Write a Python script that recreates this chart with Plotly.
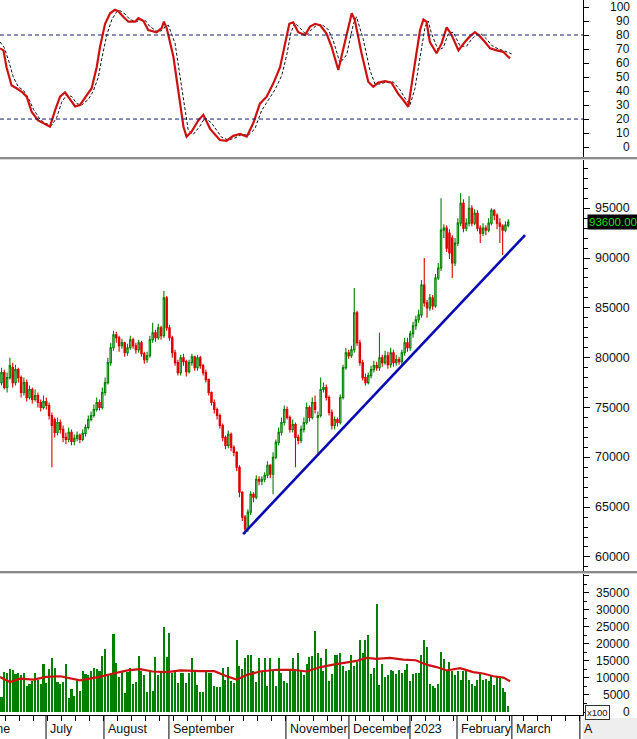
import plotly.graph_objects as go

# ---------------- data (bar index = trading day, 0 = first bar in June 2022) ----------------
open_ = [
    77500, 78500, 77000, 78000, 79000, 77500, 78800, 78000, 76500, 77500,
    76000, 76800, 75800, 76200, 75500, 75000, 75600, 75200, 74200, 73800,
    72500, 73500, 72800, 72000, 71800, 72500, 71600, 71900, 72200, 71800,
    72400, 73000, 73800, 74200, 74800, 75500, 75000, 76500, 77500, 79500,
    81000, 82300, 82000, 81200, 81500, 80500, 81000, 81800, 81200, 80800,
    81500, 80400, 79800, 80200, 81800, 82500, 82000, 83000, 82200, 86000,
    83000, 82000, 80500, 79500, 78500, 80000, 79600, 78600, 79500, 80100,
    79000, 80000, 79200, 78500, 77800, 76500, 75500, 74800, 74200, 73200,
    72000, 71200, 72300, 71000, 70500, 69000, 66500, 64000, 62800, 64500,
    66300, 66000, 67800, 67600, 67800, 68200, 69200, 68300, 70000, 71500,
    72500, 73500, 74800, 74000, 72800, 73300, 72000, 71700, 72800, 73500,
    75000, 74000, 75500, 74000, 74200, 76800, 77000, 76000, 74500, 73200,
    73800, 73500, 76000, 79000, 80500, 80200, 80800, 84500, 81500, 79500,
    78000, 77500, 78200, 78800, 79200, 79000, 80000, 79500, 80200, 79300,
    80500, 79500, 79800, 79600, 80500, 81500, 81000, 82400, 83200, 83800,
    84300, 87300, 85500, 85000, 86000, 85200, 88000, 89000, 92800, 93000,
    92500, 92000, 89500, 91500, 93500, 95500, 93000, 93500, 95000, 93500,
    94500, 93000, 92500, 93000, 92800, 93500, 94800, 94300, 93500, 93200,
    92800, 93300,
]
high = [
    79000, 78800, 78500, 80000, 79500, 79300, 79000, 78200, 78000, 77800,
    77200, 77000, 76800, 76500, 75800, 76200, 76000, 75500, 74500, 74000,
    74000, 73800, 73200, 72500, 73000, 72800, 72300, 72600, 72400, 72800,
    73300, 74200, 74600, 75300, 76000, 75800, 77000, 78000, 80000, 81500,
    82700, 82600, 82200, 81900, 81600, 81400, 82200, 82000, 81500, 81800,
    81700, 80600, 80600, 82200, 83500, 82800, 83400, 83200, 86700, 86200,
    83300, 82200, 80800, 79800, 80300, 80400, 79800, 79800, 80400, 80200,
    80300, 80200, 79400, 78800, 77900, 76600, 75800, 75000, 74400, 73400,
    72200, 72700, 72500, 71200, 70600, 69200, 66600, 64200, 64800, 66600,
    66500, 68200, 68100, 68100, 68500, 69600, 69300, 70500, 71800, 73000,
    74000, 75200, 75100, 74200, 73800, 73500, 72300, 73200, 74000, 75500,
    75200, 76000, 76200, 74600, 78000, 77500, 77300, 76200, 74800, 74100,
    74000, 76300, 79300, 81000, 80800, 81200, 87000, 84700, 81800, 79800,
    78400, 78500, 79200, 79700, 79600, 82500, 80300, 80700, 80600, 81000,
    80800, 80300, 80100, 80800, 82000, 82000, 82700, 83600, 84200, 84800,
    87800, 90000, 85800, 86400, 86300, 88400, 89500, 96000, 93400, 93300,
    92900, 92300, 92000, 94000, 96500, 95900, 94000, 96200, 95300, 94900,
    94800, 93300, 93500, 93300, 94000, 95000, 94900, 94500, 94000, 93400,
    93700, 93900,
]
low = [
    77200, 76800, 76500, 77800, 77000, 77200, 77500, 76000, 76200, 75600,
    75800, 75400, 75600, 75000, 74600, 74800, 74800, 73800, 69000, 72000,
    72200, 72400, 71500, 71300, 71500, 71200, 71200, 71600, 71400, 71600,
    72100, 72800, 73600, 74000, 74600, 74700, 74800, 76200, 77300, 79200,
    80700, 81500, 80600, 80900, 80100, 80200, 80800, 80900, 80400, 80500,
    80100, 79400, 79500, 80000, 81500, 81600, 81800, 81800, 82000, 82700,
    81700, 80000, 79200, 78200, 78200, 79200, 78100, 78400, 79200, 78700,
    78700, 78900, 78200, 77500, 76200, 75200, 74400, 73800, 72900, 71600,
    70800, 70900, 70600, 70100, 68600, 66000, 63600, 62300, 62500, 64200,
    65500, 65800, 67200, 67200, 67500, 67900, 67900, 66300, 69800, 71200,
    72200, 73200, 73800, 72500, 72500, 69000, 71300, 71400, 72500, 73300,
    73600, 73800, 74400, 70400, 74000, 76500, 75700, 74200, 72800, 72800,
    73100, 73300, 75800, 78800, 79900, 80000, 80500, 81200, 79200, 77700,
    77200, 77300, 77900, 78500, 78700, 78700, 79100, 79300, 78900, 79000,
    79100, 79200, 79300, 79300, 80200, 80600, 80700, 82000, 82800, 83500,
    84000, 85100, 84000, 84700, 84800, 85000, 87800, 88700, 92000, 90600,
    89900, 88000, 89200, 91200, 93200, 92600, 92700, 93200, 93200, 93300,
    92700, 91500, 92200, 92300, 92600, 93300, 93800, 92900, 91500, 90300,
    92600, 93100,
]
close = [
    78500, 77000, 78000, 79200, 77500, 78800, 78000, 76500, 77500, 76000,
    76800, 75800, 76200, 75500, 75000, 75600, 75200, 74200, 73200, 72500,
    73500, 72800, 72000, 71800, 72500, 71600, 71900, 72200, 71800, 72400,
    73000, 73800, 74200, 74800, 75500, 75000, 76500, 77500, 79500, 81000,
    82300, 82000, 81200, 81500, 80500, 81000, 81800, 81200, 80800, 81500,
    80400, 79800, 80200, 81800, 82500, 82000, 83000, 82200, 86000, 83000,
    82000, 80500, 79500, 78500, 80000, 79600, 78600, 79500, 80100, 79000,
    80000, 79200, 78500, 77800, 76500, 75500, 74800, 74200, 73200, 72000,
    71200, 72300, 71000, 70500, 69000, 66500, 64000, 62800, 64500, 66300,
    66000, 67800, 67600, 67800, 68200, 69200, 68300, 70000, 71500, 72500,
    73500, 74800, 74000, 72800, 73300, 72000, 71700, 72800, 73500, 75000,
    74000, 75500, 74800, 74200, 76800, 77000, 76000, 74500, 73200, 73800,
    73500, 76000, 79000, 80500, 80200, 80800, 84500, 81500, 79500, 78000,
    77500, 78200, 78800, 79200, 79000, 80000, 79500, 80200, 79300, 80500,
    79500, 79800, 79600, 80500, 81500, 81000, 82400, 83200, 83800, 84300,
    87300, 85500, 85000, 86000, 85200, 88000, 89000, 92800, 93000, 91000,
    90500, 89500, 91500, 93500, 95500, 93000, 93500, 95000, 93500, 94500,
    93000, 92500, 93000, 92800, 93500, 94800, 94300, 93500, 93200, 92800,
    93300, 93600,
]
volume = [
    4500, 11700, 11500, 12600, 12400, 11200, 11500, 10800, 11400, 7600,
    8200, 9000, 11400, 9400, 8100, 14000, 8500, 12700, 16000, 12800,
    8800, 8200, 8800, 14000, 4200, 6800, 4700, 9200, 6200, 12000,
    11200, 10800, 11900, 12800, 12500, 12000, 16500, 18500, 10800, 11400,
    22800, 14500, 10300, 12000, 5600, 11800, 12800, 8100, 8800, 16500,
    12000, 10800, 5800, 11800, 6200, 16200, 10800, 12000, 25000, 16200,
    23300, 11400, 11800, 8500, 11400, 11400, 8500, 11400, 15900, 12000,
    8000, 6000, 6000, 11800, 11400, 11400, 7700, 7200, 7200, 12800,
    9400, 13200, 9000, 8500, 21200, 13400, 12500, 15800, 16600, 16600,
    12000, 8800, 15800, 12000, 15800, 7500, 15800, 12000, 7500, 16000,
    11400, 9000, 8500, 12000, 16000, 12000, 17200, 12000, 10800, 14000,
    16300, 16500, 23800, 17300, 15800, 12000, 18500, 9000, 11200, 16800,
    16800, 17200, 13500, 12000, 12400, 16800, 13500, 14800, 21000, 17200,
    21000, 22500, 11300, 12800, 31800, 7800, 14000, 10300, 11000, 12200,
    12000, 11300, 12400, 11600, 12400, 14200, 9000, 11200, 11400, 11600,
    16800, 21000, 19000, 8200, 7500, 7000, 8300, 17500, 15600, 12000,
    14600, 12000, 11000, 12000, 9400, 12000, 12000, 9400, 8200, 7500,
    9400, 11600, 9400, 9800, 9000, 11000, 7800, 10400, 10000, 7000,
    5800, 1800,
]
vol_ma_idx = [-0.5, 3, 6.6, 11.4, 16, 21, 28, 35, 40, 45, 49.5, 54, 59, 64, 71, 76,
              80.4, 84, 87.6, 92.3, 98.3, 104, 109, 114, 118.5, 123, 126.8, 130.4,
              134, 138.7, 143.5, 148, 151.8, 155.4, 159, 163.8, 168.5, 172, 175.7,
              179.3, 181.7]
vol_ma = [10300, 8800, 9800, 9500, 10300, 10500, 9300, 10300, 11300, 12200, 12600,
          11900, 11700, 12200, 12000, 12000, 10500, 9500, 10900, 11900, 12400, 12400,
          11900, 13200, 13900, 14400, 15000, 15900, 15600, 15900, 15400, 15200, 13900,
          13200, 12200, 12900, 11700, 11300, 10500, 10100, 9000]

stoch_k_idx = [-0.5, 0.7, 1.8, 3.6, 5.4, 7.2, 9, 10.8, 13.1, 14.9, 17.3, 19.1, 20.9,
               22.7, 24.5, 26.3, 28, 30.4, 32.2, 34, 35.2, 37, 38.8, 40.5, 41.7, 43.5,
               45.3, 47.7, 48.9, 50.7, 52.4, 55.4, 57.2, 58, 59, 61.4, 63.2, 65, 66.1,
               67.9, 70.3, 72.1, 74.5, 78, 80.4, 82.8, 85.2, 87.6, 89.9, 92.3, 94.7,
               97.1, 99.5, 101.3, 102.8, 104.2, 106, 108.4, 110.2, 112, 113.8, 116.1,
               117.9, 120.3, 122.7, 125.1, 126.2, 128.6, 131, 132.8, 134.6, 137, 139.3,
               141.7, 143.5, 145.3, 147.1, 149.5, 150.7, 151.8, 153, 155.4, 157.2, 159,
               160.8, 163.2, 165.5, 167.3, 169.1, 170.9, 172.7, 174.5, 176.9, 179.2,
               181.6]
stoch_k = [70.5, 69, 57, 44, 42, 39.5, 36, 25, 19, 17, 14.5, 26, 36, 39, 33.6, 29, 30,
           37, 42, 57, 71.6, 88, 95.5, 98, 97, 93, 89.5, 89.5, 92, 90, 83.6, 82, 85,
           89.5, 85, 64.5, 38, 14.5, 7.4, 11, 19, 23, 13, 5, 4.5, 8, 9.3, 7.4, 17, 31,
           36, 45.5, 57, 74, 88, 89, 82, 80, 86, 88, 87, 81, 71.6, 55, 76.4, 95.5, 90.7,
           67, 46.6, 43, 46, 47, 46, 38, 33.6, 28.8, 52.6, 83.6, 91, 89.5, 75, 67, 74,
           85.5, 80, 69, 75, 79, 82, 79, 75, 70.5, 69, 68, 63.3]
stoch_d_idx = [-0.5, 1, 2.5, 4.2, 6, 7.8, 9.6, 11.4, 13.7, 15.5, 17.9, 19.7, 21.5, 23.3,
               25.1, 26.9, 28.6, 31, 32.8, 34.6, 35.8, 37.6, 39.4, 41.1, 42.3, 44.1,
               45.9, 48.3, 49.5, 51.3, 53, 56, 57.8, 58.6, 59.6, 62, 63.8, 65.6, 66.7,
               68.5, 70.9, 72.7, 75.1, 78.6, 81, 83.4, 85.8, 88.2, 90.5, 92.9, 95.3,
               97.7, 100.1, 101.9, 103.4, 104.8, 106.6, 109, 110.8, 112.6, 114.4, 116.7,
               118.5, 120.9, 123.3, 125.7, 126.8, 129.2, 131.6, 133.4, 135.2, 137.6,
               139.9, 142.3, 144.1, 145.9, 147.7, 150.1, 151.3, 152.4, 153.6, 156,
               157.8, 159.6, 161.4, 163.8, 166.1, 167.9, 169.7, 171.5, 173.3, 175.1,
               177.5, 179.8, 182.2]
stoch_d = [75, 71, 62, 50, 43, 40.5, 35, 27, 20, 17, 15.5, 21, 32, 37.5, 36, 31, 30, 34,
           40, 50, 63, 80, 91, 96.5, 97.5, 95, 91, 89.5, 91, 90.5, 86, 82, 84, 86.5, 87,
           74, 50, 25, 12, 9, 15, 21, 17, 7, 5, 6.5, 9, 8.5, 13, 26, 34, 41, 51, 66, 82,
           88.5, 85, 80, 84, 87, 87.5, 84, 76, 60, 66, 88, 93, 77, 55, 45, 45, 46.5,
           46.5, 41, 35, 30, 42, 72, 86, 90, 81, 69, 71, 81, 82, 72, 72, 77, 80.5, 80.5,
           77, 72.5, 70, 68.5, 66.5]

trend_idx = [86.3, 187.0]
trend_price = [62300, 92300]

last_price = 93600
stoch_levels = [80, 20]

stoch_ticks = [100, 90, 80, 70, 60, 50, 40, 30, 20, 10, 0]
price_ticks = [95000, 90000, 85000, 80000, 75000, 70000, 65000, 60000]
vol_ticks = [35000, 30000, 25000, 20000, 15000, 10000, 5000, 0]

month_labels = ["June", "July", "August", "September", "November", "December", "2023",
                "February", "March", "A"]
month_start_idx = [-5.0, 15.9, 36.6, 59.8, 101.6, 124.1, 145.9, 162.7, 182.3, 206.6]

# ---------------- layout geometry ----------------
W, H = 637, 739
ML, MR, MT, MB = 0, 54, 0, 24
PW, PH = W - ML - MR, H - MT - MB


def py(ypx):  # pixel row -> paper y
    return (PH - ypx) / PH


def px(xpx):  # pixel column -> paper x
    return xpx / PW


X_RANGE = [-0.536, 207.7]
FONT = "Liberation Sans, Arial, sans-serif"
GREEN = "#008000"
RED = "#dd0000"

n = len(close)
idx = list(range(n))

fig = go.Figure()

# stochastic
fig.add_trace(go.Scatter(x=stoch_d_idx, y=stoch_d, mode="lines", yaxis="y",
                         line=dict(color="#111111", width=1, dash="3px,2px"),
                         hoverinfo="skip", showlegend=False))
fig.add_trace(go.Scatter(x=stoch_k_idx, y=stoch_k, mode="lines", yaxis="y",
                         line=dict(color="#cc1111", width=2.2),
                         showlegend=False))

# candles
fig.add_trace(go.Candlestick(x=idx, open=open_, high=high, low=low, close=close,
                             yaxis="y2", whiskerwidth=0,
                             increasing=dict(line=dict(color=GREEN, width=1.1), fillcolor="white"),
                             decreasing=dict(line=dict(color=RED, width=1.1), fillcolor=RED),
                             showlegend=False))
fig.add_trace(go.Scatter(x=trend_idx, y=trend_price, mode="lines", yaxis="y2",
                         line=dict(color="#0a0ab4", width=2.6), showlegend=False))

# volume
fig.add_trace(go.Bar(x=idx, y=volume, yaxis="y3", marker=dict(color=GREEN, line=dict(width=0)),
                     width=0.72, showlegend=False))
fig.add_trace(go.Scatter(x=vol_ma_idx, y=vol_ma, mode="lines", yaxis="y3",
                         line=dict(color="#cc1111", width=2.2), showlegend=False))

axis_common = dict(side="right", anchor="x", showgrid=False, zeroline=False,
                   showline=True, linecolor="#000000", linewidth=1, ticks="outside",
                   tickcolor="#000000", showticklabels=False, fixedrange=True)

fig.update_layout(
    width=W, height=H, margin=dict(l=ML, r=MR, t=MT, b=MB),
    paper_bgcolor="white", plot_bgcolor="white", showlegend=False,
    font=dict(family=FONT, size=12, color="#111111"),
    bargap=0,
    xaxis=dict(range=X_RANGE, domain=[0, 1], anchor="y3", showgrid=False, zeroline=False,
               showline=True, linecolor="#000000", ticks="outside", ticklen=5,
               tickcolor="#000000", tick0=1.4, dtick=5, showticklabels=False,
               rangeslider=dict(visible=False), fixedrange=True),
    yaxis=dict(domain=[py(157), 1], range=[-7.1, 105], tickvals=stoch_ticks, ticklen=5,
               **axis_common),
    yaxis2=dict(domain=[py(571), py(160)], range=[58590, 99840], dtick=5000, ticklen=6,
                minor=dict(dtick=1000, ticks="outside", ticklen=4, tickcolor="#000000"),
                **axis_common),
    yaxis3=dict(domain=[0, py(574)], range=[-875, 40520], dtick=5000, ticklen=5,
                minor=dict(dtick=2500, ticks="outside", ticklen=3, tickcolor="#000000"),
                **axis_common),
)

shapes = []
# stochastic reference levels
for lv in stoch_levels:
    shapes.append(dict(type="line", xref="paper", yref="y", x0=0, x1=1, y0=lv, y1=lv,
                       line=dict(color="#1a1a6e", width=1, dash="4px,3px")))
# panel separators
for ytop in (157, 571):
    shapes.append(dict(type="rect", xref="paper", yref="paper", x0=0, x1=px(W),
                       y0=py(ytop + 2), y1=py(ytop), fillcolor="#8a8a8a",
                       line=dict(width=0), layer="above"))
    shapes.append(dict(type="rect", xref="paper", yref="paper", x0=0, x1=px(W),
                       y0=py(ytop + 3), y1=py(ytop + 2), fillcolor="#d8d8d8",
                       line=dict(width=0), layer="above"))
# month separators below the axis
for m in month_start_idx[1:]:
    shapes.append(dict(type="line", xref="x", yref="paper", x0=m, x1=m,
                       y0=py(H - MT), y1=0, line=dict(color="#000000", width=1)))
# grey area right-bottom
shapes.append(dict(type="rect", xref="paper", yref="paper", x0=1, x1=px(W),
                   y0=py(H), y1=py(PH + 3), fillcolor="#eeeeee", line=dict(width=0)))
fig.update_layout(shapes=shapes)

ann = []
LBL_X = px(632)
for v in stoch_ticks:
    ann.append(dict(xref="paper", yref="y", x=LBL_X, y=v, text=str(v), showarrow=False,
                    xanchor="right", yanchor="middle", font=dict(size=12)))
for v in price_ticks:
    ann.append(dict(xref="paper", yref="y2", x=LBL_X, y=v, text=str(v), showarrow=False,
                    xanchor="right", yanchor="middle", font=dict(size=12.5)))
for v in vol_ticks:
    ann.append(dict(xref="paper", yref="y3", x=LBL_X, y=v, text=str(v), showarrow=False,
                    xanchor="right", yanchor="middle", font=dict(size=12)))
ann.append(dict(xref="paper", yref="y2", x=px(587), y=last_price, text=f"{last_price:.2f}",
                showarrow=False, xanchor="left", yanchor="middle", bgcolor="#000000",
                font=dict(size=11.5, color="#22dd22"), borderpad=1))
ann.append(dict(xref="paper", yref="y3", x=px(585), y=0, text="x100", showarrow=False,
                xanchor="left", yanchor="middle", bgcolor="white", bordercolor="#333333",
                borderwidth=1, borderpad=1, font=dict(size=9.5)))
for lab, m in zip(month_labels, month_start_idx):
    if m < X_RANGE[0]:
        # month that began before the visible window: text runs in from the left edge
        ann.append(dict(xref="paper", yref="paper", x=px(12), y=py(729), text=lab,
                        showarrow=False, xanchor="right", yanchor="middle",
                        font=dict(size=12.5, color="#111111")))
    else:
        ann.append(dict(xref="x", yref="paper", x=m + 0.6, y=py(729), text=lab,
                        showarrow=False, xanchor="left", yanchor="middle",
                        font=dict(size=12.5, color="#111111")))
fig.update_layout(annotations=ann)

fig.write_html("out.html", config={"displayModeBar": False, "staticPlot": True},
               post_script="document.body.style.margin='0';document.body.style.overflow='hidden';")
